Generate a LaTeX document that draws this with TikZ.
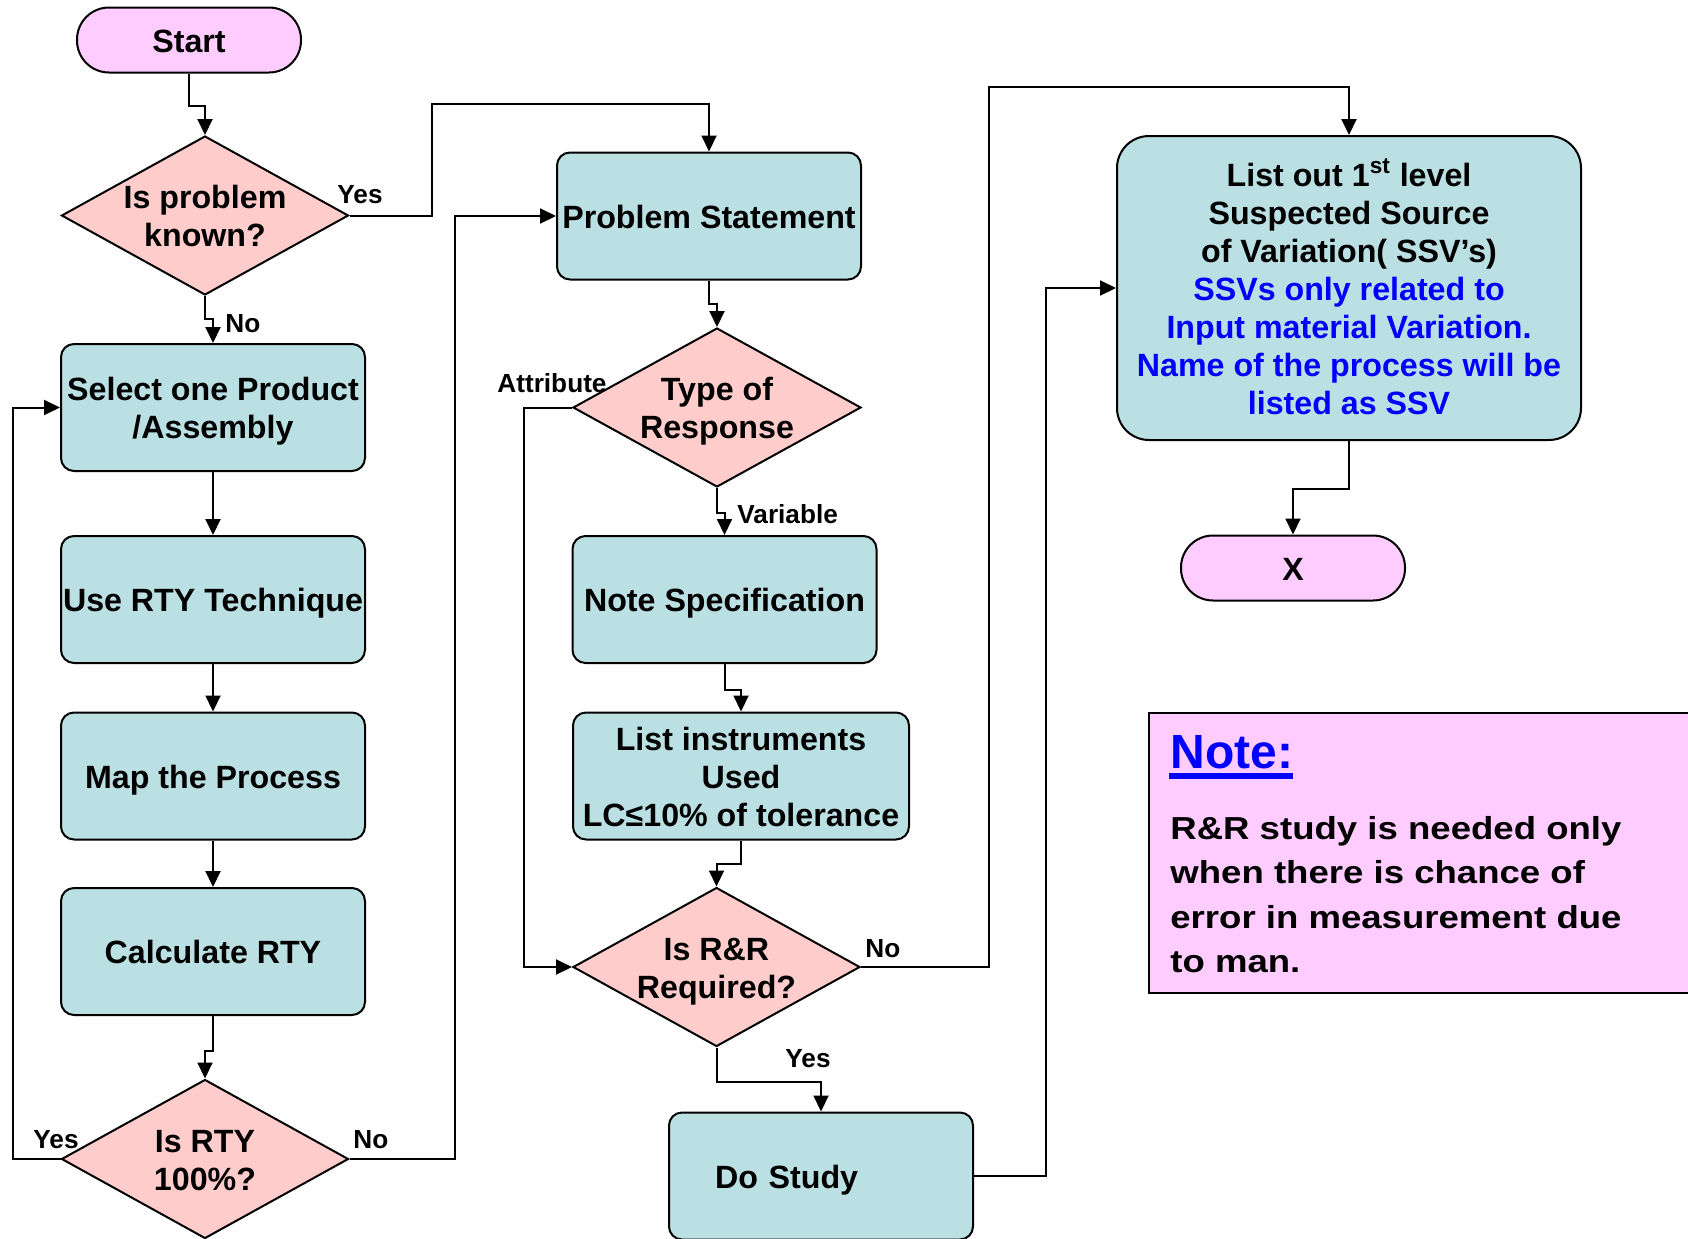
\documentclass[tikz,border=0pt]{standalone}
\usepackage{fontspec}
\setmainfont{Liberation Sans}
\newfontfamily\notefont{Liberation Sans}[FakeStretch=1.15]
\usetikzlibrary{shapes.geometric,arrows.meta,calc}

\definecolor{boxfill}{RGB}{187,224,227}
\definecolor{decfill}{RGB}{255,204,204}
\definecolor{termfill}{RGB}{255,204,255}
\definecolor{ssvblue}{RGB}{0,0,255}

% fixed line box, so that every label sits at the same height in its shape
\newcommand\flowtopstrut{\rule{0pt}{15.65pt}}
\newcommand\flowbotstrut{\rule[-3.35pt]{0pt}{3.35pt}}
\newcommand\flowtext[1]{\flowtopstrut#1\flowbotstrut}

\tikzset{
  base/.style={draw=black, line width=1pt, align=center, inner sep=0pt,
    font=\bfseries\fontsize{16.1}{19}\selectfont},
  procbox/.style={base, rectangle, rounded corners=6.5pt, fill=boxfill,
    minimum width=152pt, minimum height=63.5pt},
  decision/.style={base, diamond, aspect=1.8, fill=decfill,
    inner xsep=0pt, inner ysep=-6pt,
    minimum width=143.5pt, minimum height=79.5pt},
  terminal/.style={base, rectangle, rounded corners=16pt, fill=termfill,
    minimum width=112pt, minimum height=32.5pt},
  flow/.style={line width=1pt, -{Triangle[length=8pt,width=7.5pt]}},
  tag/.style={anchor=base west, inner sep=0pt,
    font=\bfseries\fontsize{13.1}{15}\selectfont},
}

\begin{document}
\begin{tikzpicture}[x=0.5pt, y=-0.5pt]
\useasboundingbox (0,0) rectangle (1688,1238);
\clip (0,0) rectangle (1688,1238);

% left column
\node (start) [terminal] at (189,40) {\flowtext{Start}};
\node (d1) [decision] at (205,215.5) {\flowtext{Is problem\\known?}};
\node (sel) [procbox] at (213,407.5) {\flowtext{Select one Product\\/Assembly}};
\node (use) [procbox] at (213,599.5) {\flowtext{Use RTY Technique}};
\node (map) [procbox] at (213,776) {\flowtext{Map the Process}};
\node (calc) [procbox] at (213,951.5) {\flowtext{Calculate RTY}};
\node (d2) [decision] at (205,1159) {\flowtext{Is RTY\\100\%?}};

% middle column
\node (ps) [procbox] at (709,216) {\flowtext{Problem Statement}};
\node (tor) [decision, minimum width=144pt] at (717,407.5) {\flowtext{Type of\\Response}};
\node (spec) [procbox] at (724.5,599.5) {\flowtext{Note Specification}};
\node (inst) [procbox, minimum width=168pt] at (741,776)
  {\flowtext{List instruments\\Used\\LC≤10\% of tolerance}};
\node (rr) [decision] at (716.5,967) {\flowtext{Is R\&R\\Required?}};
\node (study) [procbox, text width=106pt, align=left, inner xsep=23pt]
  at (821,1176) {\flowtext{Do Study}};

% right column
\node (ssv) [procbox, rounded corners=16pt, minimum width=232pt,
  minimum height=152pt] at (1349,288)
  {\flowtext{List out 1\textsuperscript{st} level\\
   Suspected Source\\
   of Variation( SSV’s)\\
   \textcolor{ssvblue}{SSVs only related to}\\
   \textcolor{ssvblue}{Input material Variation.}\\
   \textcolor{ssvblue}{Name of the process will be}\\
   \textcolor{ssvblue}{listed as SSV}}};
\node (xend) [terminal] at (1293,568) {\flowtext{X}};

% note panel
\node (note) [draw=black, line width=1pt, fill=termfill, anchor=north west,
  minimum width=276pt, minimum height=140pt, inner sep=0pt] at (1148,712) {};
\node (notetitle) [anchor=base west, inner sep=0pt, text=ssvblue,
  font=\bfseries\fontsize{24}{28}\selectfont] at (1170,768) {Note:};
\fill[ssvblue] ($(notetitle.base west)+(-1,5)$) rectangle ($(notetitle.base east)+(0,11)$);
\node (notebody) [anchor=north west, inner sep=0pt, align=left,
  font=\notefont\bfseries\fontsize{15.9}{22.2}\selectfont] at (1170,816)
  {R\&R study is needed only\\when there is chance of\\error in measurement due\\to man.};

% connectors
\draw[flow] (start.south) -- ++(0,32) -| (d1.north);
\draw[flow] (d1.south) -- ++(0,23) -| (sel.north);
\draw[flow] (d1.east) -- ++(82,0) |- ($(ps.north)+(0,-48)$) -- (ps.north);
\draw[flow] (sel.south) -- (use.north);
\draw[flow] (use.south) -- (map.north);
\draw[flow] (map.south) -- (calc.north);
\draw[flow] (calc.south) -- ++(0,35) -| (d2.north);
\draw[flow] (d2.west) -- ++(-48,0) |- (sel.west);
\draw[flow] (d2.east) -- ++(105,0) |- (ps.west);
\draw[flow] (ps.south) -- ++(0,23) -| (tor.north);
\draw[flow] (tor.west) -- ++(-48,0) |- (rr.west);
\draw[flow] (tor.south) -- ++(0,25) -| (spec.north);
\draw[flow] (spec.south) -- ++(0,26) -| (inst.north);
\draw[flow] (inst.south) -- ++(0,23) -| (rr.north);
\draw[flow] (rr.east) -- ++(128,0) |- ($(ssv.north)+(0,-48)$) -- (ssv.north);
\draw[flow] (rr.south) -- ++(0,34) -| (study.north);
\draw[flow] (study.east) -- ++(72,0) |- (ssv.west);
\draw[flow] (ssv.south) -- ++(0,48) -| (xend.north);

% branch labels
\node (l1) [tag] at (337,203) {Yes};
\node (l2) [tag] at (225,332) {No};
\node (l3) [tag] at (33,1148) {Yes};
\node (l4) [tag] at (353,1148) {No};
\node (l5) [tag] at (497,392) {Attribute};
\node (l6) [tag] at (737,523) {Variable};
\node (l7) [tag] at (865,957) {No};
\node (l8) [tag] at (785,1067) {Yes};
\end{tikzpicture}
\end{document}
